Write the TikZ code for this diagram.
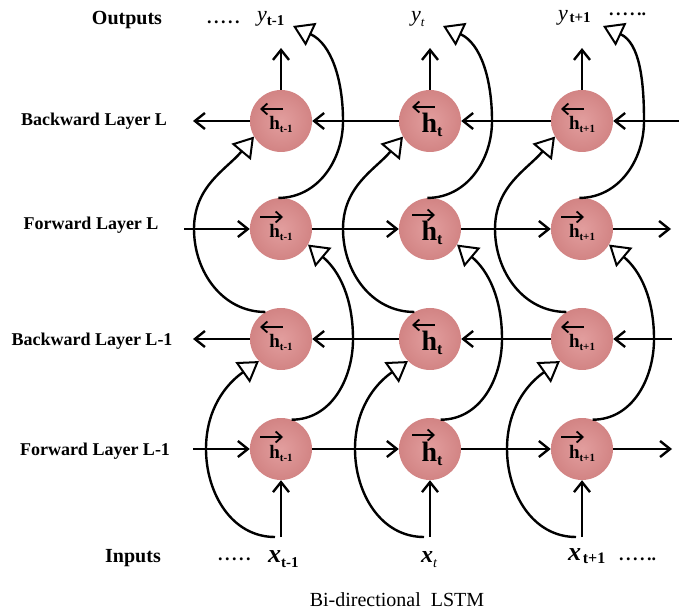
\documentclass[tikz,border=0pt]{standalone}
\usepackage{fontspec}
\setmainfont{Liberation Serif}
\usetikzlibrary{arrows.meta}
\definecolor{pk}{RGB}{210,132,132}
\definecolor{pkl}{RGB}{226,158,158}
\newcommand{\fs}[1]{\fontsize{#1}{#1}\selectfont}
\newcommand{\hs}[1]{{\fs{19}\bfseries h}\raisebox{-3pt}{\fs{11}\bfseries #1}}
\newcommand{\hb}{{\fs{28}\bfseries h}\raisebox{-4pt}{\fs{16}\bfseries t}}
\newcommand{\dts}{.\kern2.5pt.\kern2.5pt.\kern2.5pt.\kern2.5pt.}
\begin{document}
\begin{tikzpicture}[x=1pt,y=1pt,
  cell/.style={circle, minimum size=62pt, inner sep=0pt, inner color=pkl, outer color=pk},
  htxt/.style={anchor=base, inner sep=0pt},
  flow/.style={line width=2.4pt, -{Straight Barb[length=10pt,width=16pt]}},
  skip/.style={line width=2.4pt, -{Triangle[open,length=20pt,width=25pt,fill=white,line width=2pt]}},
  rvec/.style={line width=1.8pt, -{Straight Barb[length=6pt,width=11pt]}},
  lvec/.style={line width=1.8pt, {Straight Barb[length=6pt,width=11pt]}-},
  lab/.style={font=\fs{18}\bfseries, anchor=base, inner sep=0pt},
  txt/.style={anchor=base west, inner sep=0pt},
]
\useasboundingbox (0,0) rectangle (692,613);

% cells
\foreach \c/\x in {a/281, b/430, c/582}{
  \node[cell] (n1\c) at (\x,492) {};
  \node[cell] (n2\c) at (\x,384) {};
  \node[cell] (n3\c) at (\x,274) {};
  \node[cell] (n4\c) at (\x,164) {};
}
% texts in cells
\foreach \r in {1,2,3,4}{
  \node[htxt] (h\r a) at ([yshift=-9pt]n\r a.center) {\hs{t-1}};
  \node[htxt] (h\r b) at ([shift={(2pt,-12pt)}]n\r b.center) {\hb};
  \node[htxt] (h\r c) at ([yshift=-9pt]n\r c.center) {\hs{t+1}};
}
% vector arrows over h
\foreach \c/\s/\h in {a/-21/12, b/-18/14, c/-21/12}{
  \draw[lvec] ([shift={(\s,\h)}]n1\c.center) -- ++(23,0);
  \draw[rvec] ([shift={(\s,\h)}]n2\c.center) -- ++(23,0);
  \draw[lvec] ([shift={(\s,\h)}]n3\c.center) -- ++(23,0);
  \draw[rvec] ([shift={(\s,\h)}]n4\c.center) -- ++(23,0);
}

% left labels
\node[lab, font=\fs{20}\bfseries] (out) at (127,588) {Outputs};
\node[lab] (bl) at (94,487) {Backward Layer L};
\node[lab] (fl) at (91,383) {Forward Layer L};
\node[lab] (bl1) at (92,267) {Backward Layer L-1};
\node[lab] (fl1) at (95,158) {Forward Layer L-1};
\node[lab, font=\fs{20}\bfseries] (inp) at (133,51) {Inputs};
\node[anchor=base, inner sep=0pt, font=\fs{20}] (cap) at (397,7) {Bi-directional\ \ LSTM};

% outputs
\node[txt] (dtl) at (207,589) {\fs{18}\bfseries\dts};
\node[txt] (ya) at (257,591) {{\fs{22}\itshape y}\raisebox{-4pt}{\fs{15}\bfseries t-1}};
\node[txt] (yb) at (411,591) {{\fs{22}\itshape y}\raisebox{-5pt}{\fs{13}\itshape t}};
\node[txt] (yc) at (558,592) {{\fs{22}\itshape y}\,\raisebox{-2pt}{\fs{15}\bfseries t+1}};
\node[txt] (dtr) at (609,597) {\fs{18}\bfseries\dts.};
% inputs
\node[txt] (dbl) at (218,53) {\fs{18}\bfseries\dts};
\node[txt] (xa) at (268,51) {{\fs{26}\bfseries\itshape x}\raisebox{-5pt}{\fs{15}\bfseries t-1}};
\node[txt] (xb) at (421,51) {{\fs{24}\bfseries\itshape x}\raisebox{-5pt}{\fs{14}\itshape t}};
\node[txt] (xc) at (568,53) {{\fs{26}\bfseries\itshape x}\,\raisebox{-3pt}{\fs{16}\bfseries t+1}};
\node[txt] (dbr) at (619,53) {\fs{18}\bfseries\dts.};

% free ends
\coordinate (L1) at (193,492); \coordinate (R1) at (679,492);
\coordinate (L2) at (184,384); \coordinate (R2) at (671,384);
\coordinate (L3) at (193,274); \coordinate (R3) at (672,274);
\coordinate (L4) at (193,164); \coordinate (R4) at (672,164);
\foreach \c/\x/\tx in {a/281/293, b/430/443, c/582/603}{
  \coordinate (Y\c) at (\x,565);
  \coordinate (X\c) at (\x,76);
  \coordinate (T\c) at (\tx,587);
}

% horizontal flows
\draw[flow] (n1a) -- (L1);
\draw[flow] (n1b) -- (n1a);
\draw[flow] (n1c) -- (n1b);
\draw[flow] (R1) -- (n1c);
\draw[flow] (L2) -- (n2a);
\draw[flow] (n2a) -- (n2b);
\draw[flow] (n2b) -- (n2c);
\draw[flow] (n2c) -- (R2);
\draw[flow] (n3a) -- (L3);
\draw[flow] (n3b) -- (n3a);
\draw[flow] (n3c) -- (n3b);
\draw[flow] (R3) -- (n3c);
\draw[flow] (L4) -- (n4a);
\draw[flow] (n4a) -- (n4b);
\draw[flow] (n4b) -- (n4c);
\draw[flow] (n4c) -- (R4);

% vertical flows and skip curves
\foreach \c in {a,b,c}{
  \draw[flow] (n1\c.north) -- (Y\c);
  \draw[flow] (X\c) -- (n4\c.south);
  \draw[skip] ([xshift=-6pt]X\c) to[out=180,in=270] ([xshift=-75pt]n4\c.center) to[out=90,in=215] (n3\c.225);
  \draw[skip] (n3\c.120) to[out=180,in=270] ([xshift=-87pt]n2\c.center) to[out=90,in=230] (n1\c.210);
  \draw[skip] (n4\c.70) to[out=0,in=270] ([xshift=72pt]n3\c.center) to[out=90,in=-40] (n2\c.-30);
  \draw[skip] (n2\c.95) to[out=0,in=270] ([xshift=62pt]n1\c.center) to[out=90,in=-25] (T\c);
}
\end{tikzpicture}
\end{document}
